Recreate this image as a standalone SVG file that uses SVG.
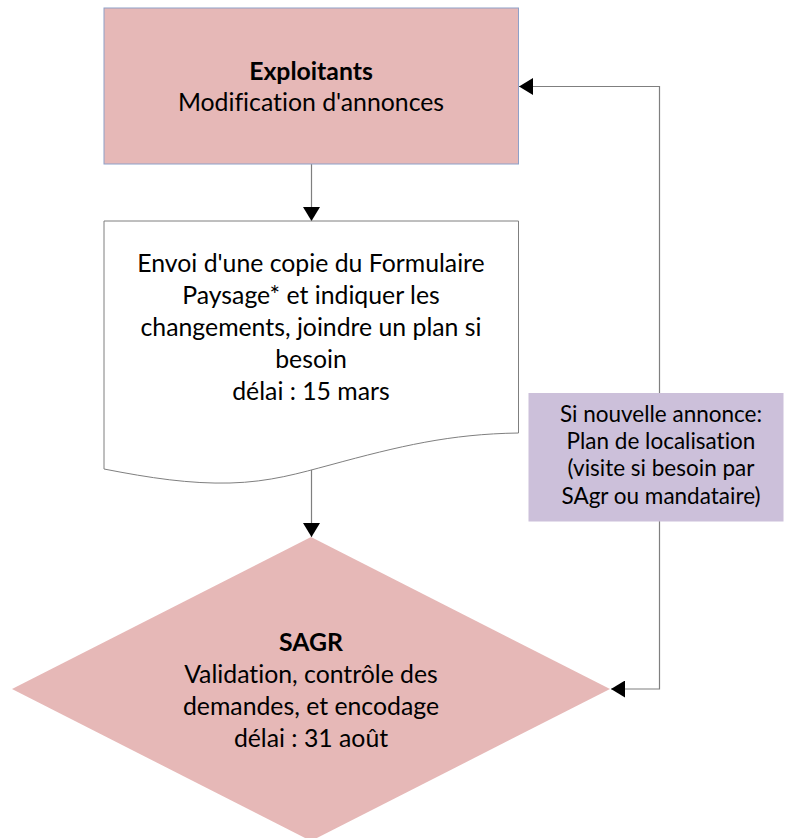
<svg xmlns="http://www.w3.org/2000/svg" width="786" height="838" viewBox="0 0 786 838">
<style>
text{font-family:Lato,"Open Sans","Liberation Sans",sans-serif;fill:#000;text-anchor:middle;font-variant-ligatures:none}
.t{font-size:24.8px}
.s{font-size:22.5px}
.b{font-weight:bold}
.ln{fill:none;stroke:#7f7f7f;stroke-width:1.2}
</style>
<defs>
<marker id="ah" viewBox="0 0 14 17" refX="14" refY="8.5" markerWidth="14" markerHeight="17" markerUnits="userSpaceOnUse" orient="auto">
<path d="M0,0L14,8.5L0,17z" fill="#000"/>
</marker>
</defs>
<rect width="786" height="838" fill="#fff"/>
<g id="connectors">
<path class="ln" d="M311.5,164V221" marker-end="url(#ah)"/>
<path class="ln" d="M311.5,468V537" marker-end="url(#ah)"/>
<path class="ln" d="M659.5,393V86.5H519" marker-end="url(#ah)"/>
<path class="ln" d="M659.5,521V689H611" marker-end="url(#ah)"/>
</g>
<g id="exploitants">
<rect x="104" y="8" width="414.5" height="156" fill="#e6b8b7" stroke="#8ea0c8" stroke-width="1"/>
<text class="t b" x="311" y="80">Exploitants</text>
<text class="t" x="311" y="111">Modification d'annonces</text>
</g>
<g id="formulaire">
<path d="M104,221H518.5V433C450,434 400,446 330,465C300,473 270,482 230,483C190,484 150,478 104,469Z" fill="#fff" stroke="#7f7f7f" stroke-width="1"/>
<text class="t" x="311" y="272">Envoi d'une copie du Formulaire</text>
<text class="t" x="311" y="304">Paysage* et indiquer les</text>
<text class="t" x="311" y="336">changements, joindre un plan si</text>
<text class="t" x="311" y="368">besoin</text>
<text class="t" x="311" y="400">délai : 15 mars</text>
</g>
<g id="localisation">
<rect x="528.5" y="393" width="255" height="128.5" fill="#ccc0da"/>
<text class="s" x="661" y="422">Si nouvelle annonce:</text>
<text class="s" x="661" y="449">Plan de localisation</text>
<text class="s" x="661" y="476">(visite si besoin par</text>
<text class="s" x="661" y="504">SAgr ou mandataire)</text>
</g>
<g id="sagr">
<path d="M311,537L610,689L311,841L12,689Z" fill="#e6b8b7"/>
<text class="t b" x="311" y="651">SAGR</text>
<text class="t" x="311" y="683">Validation, contrôle des</text>
<text class="t" x="311" y="715">demandes, et encodage</text>
<text class="t" x="311" y="747">délai : 31 août</text>
</g>
</svg>
